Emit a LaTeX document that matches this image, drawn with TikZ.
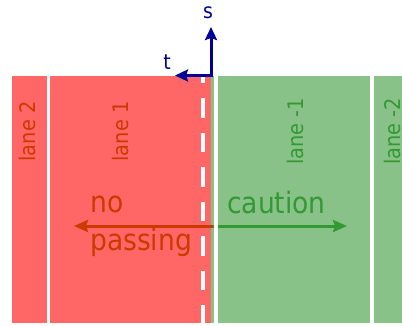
\documentclass[tikz,border=0pt]{standalone}
\usepackage{fontspec}
\setmainfont{DejaVu Sans Condensed}
\usepackage{xcolor}
\usetikzlibrary{arrows.meta, positioning}
\definecolor{laneRed}{HTML}{FF6666}
\definecolor{laneGreen}{HTML}{88C288}
\definecolor{textRed}{HTML}{CC3A00}
\definecolor{textGreen}{HTML}{339933}
\definecolor{axisBlue}{HTML}{000099}
\begin{document}
\begin{tikzpicture}[
  x=1pt, y=-1pt,
  marking/.style={draw=white, line width=4pt},
  lanelabel/.style={rotate=90, font=\fontsize{21.5}{25}\selectfont, inner sep=0pt},
  zonelabel/.style={font=\fontsize{29.5}{35}\selectfont, anchor=base west, inner sep=0pt},
  axislabel/.style={font=\fontsize{21}{25}\selectfont, text=axisBlue, anchor=base, inner sep=0pt},
  axis/.style={draw=axisBlue, line width=3pt, miter limit=10, {Stealth[length=13pt, width=12pt, inset=2pt]}-{Stealth[length=13pt, width=12pt, inset=2pt]}},
  zonearrow/.style={line width=3pt, -{Stealth[length=14pt, width=12pt, inset=2pt]}}
]
\useasboundingbox (0,0) rectangle (402,325);
% road
\fill[laneRed] (12,76) rectangle (211,323);
\fill[laneGreen] (211,76) rectangle (402,323);
% zones
\coordinate (mid) at (213,226);
\coordinate (notip) at (74,226);
\coordinate (cautiontip) at (347,226);
\draw[zonearrow, draw=textRed, fill=textRed] (mid) -- (notip);
\draw[zonearrow, draw=textGreen, fill=textGreen] (mid) -- (cautiontip);
\node[zonelabel, text=textRed] (no) at (90,212) {no};
\node[zonelabel, text=textRed] (passing) at (90,250) {passing};
\node[zonelabel, text=textGreen] (caution) at (227,213) {caution};
% markings
\draw[marking, line width=3.5pt] (48.5,76) -- (48.5,323);
\draw[marking, dash pattern=on 19.5pt off 15pt, dash phase=12.5pt] (203,76) -- (203,323);
\draw[marking] (215.5,76) -- (215.5,323);
\draw[marking] (372,76) -- (372,323);
% lanes
\node[lanelabel, text=textRed] (lane2) at (27,131.5) {lane 2};
\node[lanelabel, text=textRed] (lane1) at (120,131.5) {lane 1};
\node[lanelabel, text=textGreen] (laneM1) at (295,131.5) {lane -1};
\node[lanelabel, text=textGreen] (laneM2) at (392,131.5) {lane -2};
% frame
\coordinate (o) at (211,75.5);
\coordinate (stip) at (211,27);
\coordinate (ttip) at (175,75.5);
\draw[axis] (ttip) -- (o) -- (stip);
\node[axislabel] (s) at (208,18.5) {s};
\node[axislabel] (t) at (167,69) {t};
\end{tikzpicture}
\end{document}
